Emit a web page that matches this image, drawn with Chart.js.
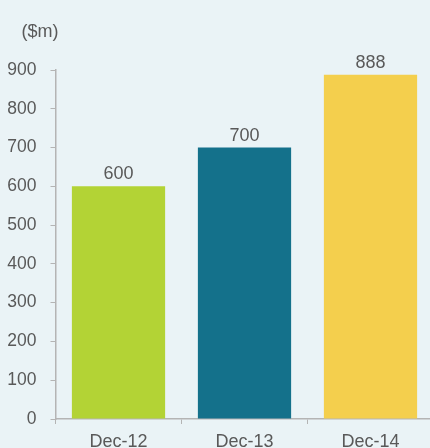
<!DOCTYPE html>
<html>
<head>
<meta charset="utf-8">
<script src="https://cdn.jsdelivr.net/npm/chart.js@4/dist/chart.umd.min.js"></script>
<style>
  html, body { margin: 0; padding: 0; background: #eaf3f6; overflow: hidden; }
  #wrap { position: relative; width: 436px; height: 448px; }
</style>
</head>
<body>
<div id="wrap"><canvas id="chart"></canvas></div>
<script>
const categories = ["Dec-12", "Dec-13", "Dec-14"];
const values = [600, 700, 888];
const barColors = ["#b3d335", "#14718b", "#f4cf4d"];
const yTicks = [0, 100, 200, 300, 400, 500, 600, 700, 800, 900];
const unitLabel = "($m)";

const ink = "#595959";
const axisLine = "#b4b4b4";
const fontFamily = "'Liberation Sans', Arial, sans-serif";

const valueLabels = {
  id: "valueLabels",
  afterDatasetsDraw(chart) {
    const ctx = chart.ctx;
    const meta = chart.getDatasetMeta(0);
    ctx.save();
    ctx.fillStyle = ink;
    ctx.font = `18px ${fontFamily}`;
    ctx.textAlign = "center";
    ctx.textBaseline = "alphabetic";
    meta.data.forEach((bar, i) => {
      ctx.fillText(String(values[i]), bar.x, bar.y - 7);
    });
    ctx.fillText(unitLabel, 40, 37);
    ctx.restore();
  },
};

new Chart(document.getElementById("chart"), {
  type: "bar",
  data: {
    labels: categories,
    datasets: [{
      data: values,
      backgroundColor: barColors,
      borderWidth: 0,
      categoryPercentage: 0.74,
      barPercentage: 1,
    }],
  },
  plugins: [valueLabels],
  options: {
    responsive: true,
    maintainAspectRatio: false,
    animation: false,
    layout: { padding: { top: 70, right: 2.5, left: 0, bottom: 0 } },
    plugins: { legend: { display: false }, tooltip: { enabled: false } },
    scales: {
      x: {
        grid: { drawOnChartArea: false, color: axisLine, tickLength: 5, offset: true },
        border: { color: axisLine, width: 1.5 },
        ticks: { color: ink, font: { size: 18, family: fontFamily }, padding: 7, maxRotation: 0 },
        afterFit(scale) { scale.height = 29; },
      },
      y: {
        min: 0,
        max: 900,
        afterBuildTicks(scale) { scale.ticks = yTicks.map((v) => ({ value: v })); },
        grid: { drawOnChartArea: false, color: axisLine, tickLength: 5 },
        border: { color: axisLine, width: 1.5 },
        ticks: { color: ink, font: { size: 17.5, family: fontFamily }, padding: 14 },
        afterFit(scale) { scale.width = 55.5; },
      },
    },
  },
});
</script>
</body>
</html>
